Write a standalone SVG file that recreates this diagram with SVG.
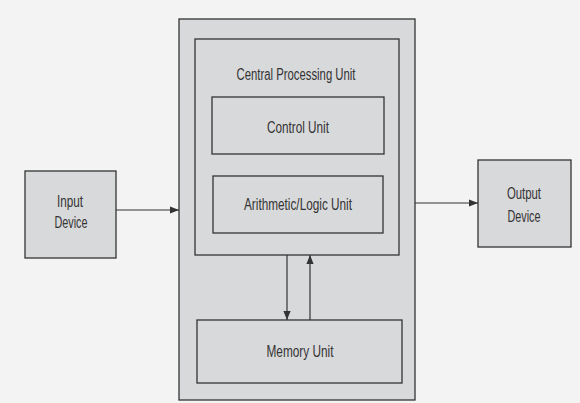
<svg xmlns="http://www.w3.org/2000/svg" width="580" height="403" viewBox="0 0 580 403">
<style>
.box{fill:#d8d9db;stroke:#333;stroke-width:1.3}
.lbl{font-family:"Liberation Sans","DejaVu Sans",sans-serif;font-size:16px;fill:#333;text-anchor:middle}
.wire{stroke:#333;stroke-width:1.2;fill:none;marker-end:url(#ah)}
</style>
<defs>
<marker id="ah" viewBox="0 0 10 10" refX="10" refY="5" markerWidth="9" markerHeight="9" markerUnits="userSpaceOnUse" orient="auto">
<path d="M0,1 L10,5 L0,9 Z" fill="#333"/>
</marker>
</defs>
<rect x="0" y="0" width="580" height="403" fill="#f3f3f3"/>
<g id="computer">
<rect class="box" x="179" y="19" width="236" height="381"/>
</g>
<g id="cpu">
<rect class="box" x="195" y="39" width="204" height="216"/>
<text class="lbl" x="296" y="80" textLength="119" lengthAdjust="spacingAndGlyphs">Central Processing Unit</text>
</g>
<g id="control-unit">
<rect class="box" x="212" y="97" width="172" height="57"/>
<text class="lbl" x="298" y="133" textLength="62" lengthAdjust="spacingAndGlyphs">Control Unit</text>
</g>
<g id="alu">
<rect class="box" x="213" y="176" width="170" height="57"/>
<text class="lbl" x="298" y="210" textLength="108" lengthAdjust="spacingAndGlyphs">Arithmetic/Logic Unit</text>
</g>
<g id="memory-unit">
<rect class="box" x="197" y="320" width="205" height="63"/>
<text class="lbl" x="300" y="357" textLength="67" lengthAdjust="spacingAndGlyphs">Memory Unit</text>
</g>
<g id="input-device">
<rect class="box" x="25" y="171" width="91" height="87"/>
<text class="lbl" x="70" y="207" textLength="26" lengthAdjust="spacingAndGlyphs">Input</text>
<text class="lbl" x="71" y="228" textLength="33" lengthAdjust="spacingAndGlyphs">Device</text>
</g>
<g id="output-device">
<rect class="box" x="478" y="160" width="93" height="87"/>
<text class="lbl" x="524" y="199" textLength="34" lengthAdjust="spacingAndGlyphs">Output</text>
<text class="lbl" x="524" y="222" textLength="33" lengthAdjust="spacingAndGlyphs">Device</text>
</g>
<g id="connectors">
<line class="wire" x1="116" y1="210" x2="179" y2="210"/>
<line class="wire" x1="415" y1="203" x2="478" y2="203"/>
<line class="wire" x1="287" y1="255" x2="287" y2="320"/>
<line class="wire" x1="310" y1="320" x2="310" y2="255"/>
</g>
</svg>
